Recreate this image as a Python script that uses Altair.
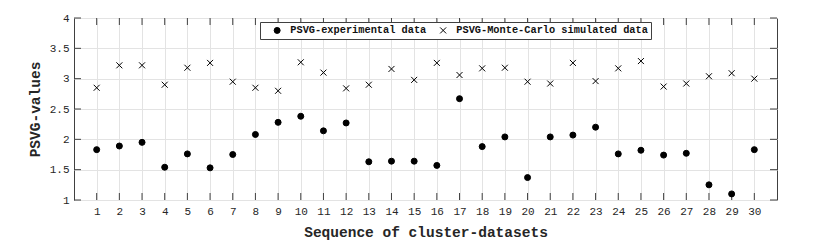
import altair as alt
import pandas as pd

clusters = list(range(1, 31))
experimental = [1.83, 1.89, 1.95, 1.54, 1.76, 1.53, 1.75, 2.08, 2.28, 2.38,
                2.14, 2.27, 1.63, 1.64, 1.64, 1.57, 2.67, 1.88, 2.04, 1.37,
                2.04, 2.07, 2.20, 1.76, 1.82, 1.74, 1.77, 1.25, 1.10, 1.83]
monte_carlo = [2.85, 3.22, 3.22, 2.90, 3.18, 3.26, 2.95, 2.85, 2.80, 3.27,
               3.10, 2.84, 2.90, 3.16, 2.98, 3.26, 3.06, 3.17, 3.18, 2.95,
               2.92, 3.26, 2.96, 3.17, 3.29, 2.87, 2.92, 3.04, 3.09, 3.00]
x_ticks = list(range(1, 31))
y_ticks = [1, 1.5, 2, 2.5, 3, 3.5, 4]
names = ["PSVG-experimental data", "PSVG-Monte-Carlo simulated data"]

W, H = 703, 182
FONT = "Liberation Mono"
FRAME = "#404040"
X_PATH = "M-1,-1L1,1M-1,1L1,-1"

df = pd.DataFrame({
    "cluster": clusters * 2,
    "value": experimental + monte_carlo,
    "series": [names[0]] * len(clusters) + [names[1]] * len(clusters),
})
xt = pd.DataFrame({"cluster": x_ticks})
yt = pd.DataFrame({"value": y_ticks})

xs = alt.Scale(domain=[0, 31], nice=False, zero=False)
ys = alt.Scale(domain=[1, 4], nice=False, zero=False)
x_axis = alt.Axis(values=x_ticks, title="Sequence of cluster-datasets", format="d",
                  labelPadding=5, titlePadding=9, labelOverlap=False)
y_axis = alt.Axis(values=y_ticks, title="PSVG-values", format="~g",
                  labelPadding=5, titlePadding=7, labelOverlap=False)

legend = alt.Legend(
    title=None, orient="none", legendX=186, legendY=4,
    direction="horizontal", strokeColor=FRAME, fillColor="white",
    padding=3, labelFont=FONT, labelFontSize=10.3,
    labelFontWeight="bold", labelColor="#111111", labelLimit=0,
    symbolSize=36, symbolStrokeWidth=1,
    symbolOffset=9, labelOffset=8, columnPadding=2)

points = alt.Chart(df).mark_point(size=36, opacity=1, strokeWidth=1).encode(
    x=alt.X("cluster:Q", scale=xs, axis=x_axis),
    y=alt.Y("value:Q", scale=ys, axis=y_axis),
    shape=alt.Shape("series:N", scale=alt.Scale(domain=names, range=["circle", X_PATH]),
                    legend=legend),
    fill=alt.Fill("series:N", scale=alt.Scale(domain=names, range=["black", "black"]),
                  legend=legend),
    stroke=alt.Stroke("series:N", scale=alt.Scale(domain=names, range=["black", "black"]),
                      legend=legend),
)

tick_style = dict(color=FRAME, strokeWidth=1)
xb = alt.Chart(xt).mark_rule(**tick_style).encode(
    x=alt.X("cluster:Q", scale=xs, axis=x_axis), y=alt.value(H), y2=alt.value(H - 7))
xtp = alt.Chart(xt).mark_rule(**tick_style).encode(
    x=alt.X("cluster:Q", scale=xs, axis=x_axis), y=alt.value(0), y2=alt.value(7))
yl = alt.Chart(yt).mark_rule(**tick_style).encode(
    y=alt.Y("value:Q", scale=ys, axis=y_axis), x=alt.value(0), x2=alt.value(7))
yr = alt.Chart(yt).mark_rule(**tick_style).encode(
    y=alt.Y("value:Q", scale=ys, axis=y_axis), x=alt.value(W - 7), x2=alt.value(W))

chart = alt.layer(xb, xtp, yl, yr, points).properties(
    width=W, height=H,
    padding={"left": 66, "top": 10, "right": 45, "bottom": 40},
    autosize=alt.AutoSizeParams(type="none"),
).configure_view(
    stroke=FRAME, strokeWidth=1
).configure_axis(
    domain=False, ticks=False, tickSize=0, grid=True, gridColor="#e3e3e3",
    gridWidth=1, labelFont=FONT, labelFontSize=11, labelColor="#262626",
    titleFont=FONT, titleFontSize=14.5, titleFontWeight="bold", titleColor="#262626",
)

chart.save("out.html", embed_options={"renderer": "svg", "actions": False})
